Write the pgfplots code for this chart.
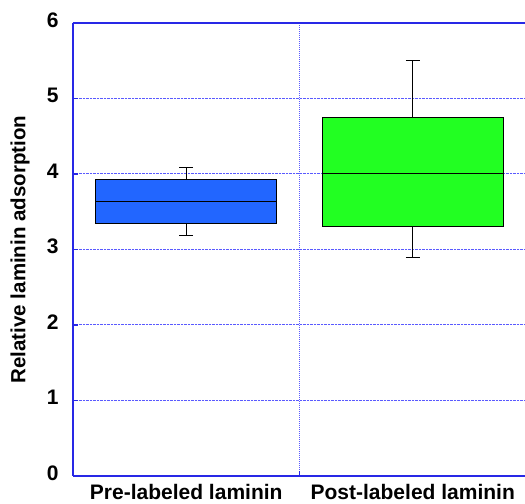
\documentclass[border=0pt]{standalone}
\usepackage{pgfplots}
\pgfplotsset{compat=1.18}
\usepgfplotslibrary{statistics}
\usetikzlibrary{calc}
\usepackage{fontspec}
\setmainfont{Liberation Sans}
\definecolor{axblue}{RGB}{40,40,230}
\definecolor{gridblue}{RGB}{90,90,255}
\definecolor{boxblue}{RGB}{34,102,255}
\definecolor{boxgreen}{RGB}{34,255,34}
\begin{document}
\begin{tikzpicture}
\begin{axis}[name=ax, scale only axis, width=453pt, height=453pt,
  xmin=-0.5, xmax=1.5, ymin=0, ymax=6,
  axis y line*=left,
  axis line style={axblue, line width=1.3pt},
  xtick={0.5}, xticklabels={},
  extra x ticks={0,1}, extra x tick labels={Pre-labeled laminin, Post-labeled laminin},
  extra x tick style={grid=none, major tick length=0pt, tick style={draw=none}},
  xtick pos=bottom, ytick pos=left,
  xmajorgrids, ymajorgrids,
  ytick={0,1,...,6},
  major grid style={gridblue, densely dotted, line width=1pt},
  major x grid style={gridblue, densely dotted, line width=1pt},
  tick style={axblue, line width=1.3pt},
  major tick length=5pt, tick align=inside,
  ticklabel style={font=\fontsize{21}{21}\selectfont\bfseries},
  xticklabel style={yshift=-5pt},
  yticklabel style={xshift=-11pt, yshift=3pt},
  /pgf/number format/assume math mode=true,
  ylabel={Relative laminin adsorption},
  ylabel style={font=\fontsize{20.5}{20.5}\selectfont\bfseries, at={(axis description cs:-0.117,0.5)}, anchor=center},
  boxplot/draw direction=y,
]
\addplot[draw=black, fill=boxblue, line width=1pt,
  boxplot prepared={draw position=0, lower whisker=3.19, lower quartile=3.35, median=3.63, upper quartile=3.93, upper whisker=4.09, box extend=0.8, whisker extend=0.06}]
  coordinates {};
\addplot[draw=black, fill=boxgreen, line width=1pt,
  boxplot prepared={draw position=1, lower whisker=2.90, lower quartile=3.30, median=4.00, upper quartile=4.75, upper whisker=5.50, box extend=0.8, whisker extend=0.06}]
  coordinates {};
\end{axis}
\pgfresetboundingbox
\path[use as bounding box] ($(ax.south west)+(-73pt,-28pt)$) rectangle ($(ax.north east)+(-1pt,23pt)$);
\end{tikzpicture}
\end{document}
